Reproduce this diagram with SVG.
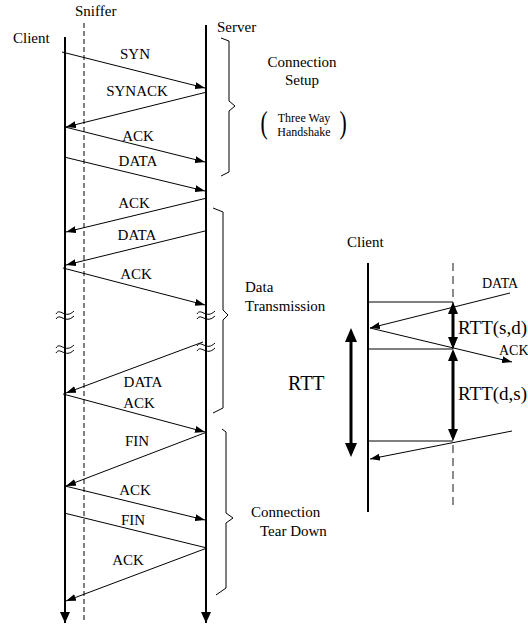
<svg xmlns="http://www.w3.org/2000/svg" width="528" height="626" viewBox="0 0 528 626">
<defs>
<marker id="ah" markerWidth="10" markerHeight="7" refX="10" refY="3.5" orient="auto" markerUnits="userSpaceOnUse"><path d="M0,0 L10,3.5 L0,7 z" fill="#000"/></marker>
<marker id="big" markerWidth="11" markerHeight="10" refX="11" refY="5" orient="auto" markerUnits="userSpaceOnUse"><path d="M0,0 L11,5 L0,10 z" fill="#000"/></marker>
<marker id="rtt" markerWidth="14" markerHeight="12" refX="10" refY="6" orient="auto-start-reverse" markerUnits="userSpaceOnUse"><path d="M0,0 L14,6 L0,12 z" fill="#000"/></marker>
<marker id="rtts" markerWidth="12" markerHeight="10" refX="8" refY="5" orient="auto-start-reverse" markerUnits="userSpaceOnUse"><path d="M0,0 L12,5 L0,10 z" fill="#000"/></marker>
</defs>
<style>
text{font-family:"Liberation Serif","Times New Roman",serif;fill:#000}
.l15{font-size:15px}
.l14{font-size:14px}
.l12{font-size:12px}
.mid{text-anchor:middle}
.life{stroke:#000;stroke-width:2;fill:none}
.msg{stroke:#000;stroke-width:1;fill:none}
.brace{stroke:#000;stroke-width:1;fill:none}
.brk{stroke:#000;stroke-width:1;fill:none}
</style>

<g id="client">
<text class="l15" x="13" y="43">Client</text>
<line class="life" x1="65" y1="37" x2="65" y2="623" marker-end="url(#big)"/>
<path class="brk" d="M56,314 C60,307 65,320 74,311 M56,319 C60,312 65,325 74,316 M56,348 C60,341 65,354 74,345 M56,353 C60,346 65,359 74,350"/>
</g>
<g id="sniffer">
<text class="l15" x="75" y="16">Sniffer</text>
<line x1="84" y1="23" x2="84" y2="620" stroke="#000" stroke-width="1" stroke-dasharray="5,3"/>
</g>
<g id="server">
<text class="l15" x="217" y="32">Server</text>
<line class="life" x1="206" y1="25" x2="206" y2="623" marker-end="url(#big)"/>
<path class="brk" d="M197,314 C201,307 206,320 215,311 M197,319 C201,312 206,325 215,316 M197,346 C201,339 206,352 215,343 M197,351 C201,344 206,357 215,348"/>
</g>

<g id="phase-setup">
<path class="brace" d="M221,38 L229,41 L229,101 L235,106 L229,111 L229,172 L221,176"/>
<text class="l15 mid" x="302" y="67">Connection</text>
<text class="l15 mid" x="302" y="85">Setup</text>
<text x="264" y="133" font-size="31" class="mid" transform="translate(264,125) scale(0.7,1) translate(-264,-125)">(</text>
<text x="343" y="133" font-size="31" class="mid" transform="translate(343,125) scale(0.7,1) translate(-343,-125)">)</text>
<text class="l12 mid" x="304" y="122">Three Way</text>
<text class="l12 mid" x="304" y="136">Handshake</text>
</g>
<g id="phase-data">
<path class="brace" d="M213,208 L223,212 L223,310 L228,315 L223,320 L223,408 L213,413"/>
<text class="l15" x="245" y="292">Data</text>
<text class="l15" x="245" y="311">Transmission</text>
</g>
<g id="phase-teardown">
<path class="brace" d="M222,429 L226,432 L226,513 L233,518 L226,523 L226,588 L216,595"/>
<text class="l15" x="251" y="517">Connection</text>
<text class="l15" x="260" y="536">Tear Down</text>
</g>

<g id="connectors">
<line class="msg" x1="62" y1="52" x2="205" y2="88" marker-end="url(#ah)"/>
<line class="msg" x1="207" y1="92" x2="66" y2="127" marker-end="url(#ah)"/>
<line class="msg" x1="65" y1="127" x2="205" y2="162" marker-end="url(#ah)"/>
<line class="msg" x1="64" y1="157" x2="205" y2="191" marker-end="url(#ah)"/>
<line class="msg" x1="207" y1="198" x2="66" y2="232" marker-end="url(#ah)"/>
<line class="msg" x1="205" y1="231" x2="66" y2="265" marker-end="url(#ah)"/>
<line class="msg" x1="63" y1="268" x2="205" y2="305" marker-end="url(#ah)"/>
<line class="msg" x1="203" y1="342" x2="66" y2="393" marker-end="url(#ah)"/>
<line class="msg" x1="63" y1="394" x2="205" y2="432" marker-end="url(#ah)"/>
<line class="msg" x1="207" y1="432" x2="66" y2="486" marker-end="url(#ah)"/>
<line class="msg" x1="65" y1="486" x2="205" y2="520" marker-end="url(#ah)"/>
<line class="msg" x1="64" y1="513" x2="207" y2="548"/>
<line class="msg" x1="207" y1="548" x2="66" y2="601" marker-end="url(#ah)"/>
</g>
<g id="msg-labels">
<text class="l15 mid" x="135" y="59">SYN</text>
<text class="l15 mid" x="137" y="96">SYNACK</text>
<text class="l15 mid" x="138" y="141">ACK</text>
<text class="l15 mid" x="138" y="166">DATA</text>
<text class="l15 mid" x="134" y="208">ACK</text>
<text class="l15 mid" x="137" y="240">DATA</text>
<text class="l15 mid" x="136" y="279">ACK</text>
<text class="l15 mid" x="143" y="387">DATA</text>
<text class="l15 mid" x="139" y="408">ACK</text>
<text class="l15 mid" x="137" y="446">FIN</text>
<text class="l15 mid" x="135" y="495">ACK</text>
<text class="l15 mid" x="133" y="525">FIN</text>
<text class="l15 mid" x="128" y="565">ACK</text>
</g>

<g id="rtt-client">
<text class="l15" x="347" y="247">Client</text>
<line class="life" x1="368" y1="263" x2="368" y2="512"/>
</g>
<g id="rtt-sniffer">
<line x1="453" y1="263" x2="453" y2="508" stroke="#666" stroke-width="1.5" stroke-dasharray="8,5"/>
</g>
<g id="rtt-connectors">
<line class="msg" x1="368" y1="302" x2="453" y2="302"/>
<line class="msg" x1="368" y1="349" x2="453" y2="349"/>
<line class="msg" x1="368" y1="441" x2="453" y2="441"/>
<line class="msg" x1="510" y1="293" x2="370" y2="328" marker-end="url(#ah)"/>
<line class="msg" x1="370" y1="328" x2="512" y2="362" marker-end="url(#ah)"/>
<line class="msg" x1="512" y1="431" x2="370" y2="459" marker-end="url(#ah)"/>
<line x1="351" y1="332" x2="351" y2="453" stroke="#000" stroke-width="3" marker-start="url(#rtt)" marker-end="url(#rtt)"/>
<line x1="453" y1="306" x2="453" y2="345" stroke="#000" stroke-width="3" marker-start="url(#rtts)" marker-end="url(#rtts)"/>
<line x1="453" y1="353" x2="453" y2="437" stroke="#000" stroke-width="3" marker-start="url(#rtts)" marker-end="url(#rtts)"/>
</g>
<g id="rtt-labels">
<text class="l14" x="482" y="288">DATA</text>
<text class="l14" x="499" y="355">ACK</text>
<text x="288" y="390" font-size="20">RTT</text>
<text x="458" y="334" font-size="19">RTT(s,d)</text>
<text x="458" y="400" font-size="19">RTT(d,s)</text>
</g>
</svg>
